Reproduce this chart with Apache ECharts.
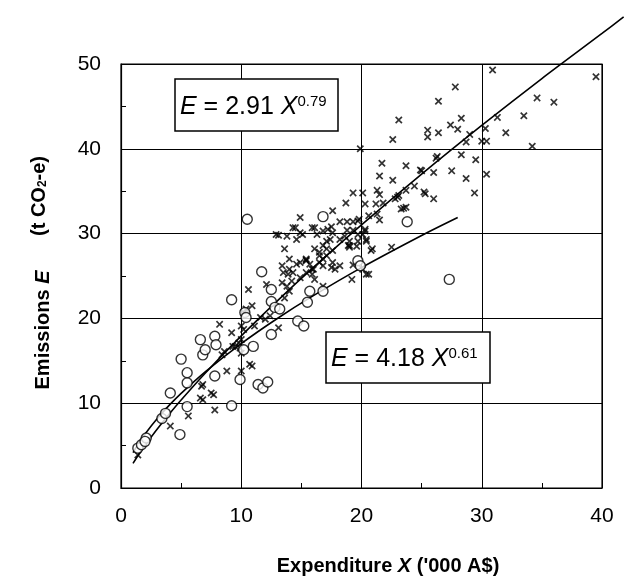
<!DOCTYPE html>
<html><head><meta charset="utf-8">
<script src="https://cdn.jsdelivr.net/npm/echarts@6/dist/echarts.min.js"></script>
<style>html,body{margin:0;padding:0;background:#fff}#c{width:626px;height:580px}</style>
</head><body><div id="c"></div>
<script>
// Households (crosses)
const crossPoints = [
[30.9,49.3],[39.5,48.5],[27.8,47.3],[26.4,45.6],[34.6,46.0],[36.0,45.5],[28.3,43.6],[31.3,43.7],[33.5,43.9],[27.4,42.8],[28.0,42.3],[25.5,42.2],[25.5,41.4],[26.4,41.9],[29.0,41.7],[30.3,42.4],[32.0,41.9],[28.7,40.8],[30.0,40.9],[30.4,40.9],[34.2,40.3],[26.3,39.1],[28.3,39.3],[29.5,38.7],[25.0,37.4],[26.0,37.2],[27.5,37.4],[28.7,36.5],[30.4,37.0],[25.2,34.9],[26.0,34.1],[29.4,34.8],
[23.1,43.4],[22.6,41.1],[19.9,40.0],[21.7,38.3],[23.7,38.0],[21.5,36.8],[22.6,36.3],[24.9,37.5],[26.2,38.9],[19.3,34.8],[20.1,34.8],[21.3,35.1],[21.5,34.6],[24.4,35.6],[25.3,34.7],[23.1,34.5],[18.7,33.6],[20.3,33.5],[21.2,33.5],[21.8,33.6],[22.8,34.1],[23.5,33.0],[20.6,32.1],[21.5,31.6],[18.2,31.4],[18.8,31.4],[19.3,31.4],[19.7,31.5],[18.6,29.7],[19.7,29.9],[20.3,30.3],[19.0,28.6],[19.7,29.1],[20.4,29.1],[20.8,28.0],[22.5,28.4],[19.3,26.3],[20.1,25.8],[20.4,25.2],
[23.0,34.3],[23.7,35.1],[17.6,32.7],[23.3,32.9],[23.7,33.1],[21.3,32.3],[19.8,31.7],[17.5,30.8],[17.2,30.5],[15.9,30.7],[18.8,30.4],[19.3,30.4],[20.3,30.5],[16.8,30.3],[15.1,29.9],[20.1,29.9],[20.4,29.3],[19.0,29.1],[19.0,28.4],[19.6,28.5],[20.9,28.2],[17.4,29.3],[16.8,28.6],[17.1,28.2],[17.6,28.0],[16.5,27.4],[16.8,27.0],[16.5,27.8],[15.4,26.9],[15.7,26.4],[16.0,25.8],[15.9,25.2],[16.1,24.6],[17.5,26.0],[16.8,26.2],[18.2,26.2],[19.2,24.6],[20.6,25.2],[16.8,23.8],
[14.5,30.7],[14.9,30.1],[16.1,30.7],[13.1,29.8],[13.8,29.7],[14.6,29.3],[13.6,28.2],[14.0,27.0],[14.6,26.4],[15.4,26.8],[13.4,26.2],[13.5,25.4],[13.9,25.2],[14.3,25.4],[10.6,23.4],[12.1,24.0],[13.4,24.2],[13.8,23.8],[14.0,23.2],[13.6,22.4],[14.2,24.4],[14.9,24.8],[15.4,25.4],[10.9,21.5],[10.4,21.1],[10.2,20.7],[13.1,18.9],[11.6,20.1],[12.0,19.9],[12.4,20.3],[8.2,19.3],[9.2,18.3],[10.0,19.1],[10.2,18.7],[11.1,19.1],[9.3,16.7],[9.9,16.5],[10.0,15.9],
[10.7,14.6],[10.0,13.8],[6.8,12.2],[8.8,13.8],[7.5,11.2],[6.8,10.4],[7.8,9.2],[5.6,8.5],[4.1,7.3],[1.4,3.9],[10.9,14.4],[8.4,15.7],[8.6,16.1],[9.5,16.7],[9.8,17.1],[10.0,17.5],[6.6,10.6],[7.7,11.0],[6.7,12.0],
[14.9,31.9],[14.3,30.7],[12.9,29.9],[16.3,29.9],[17.1,29.1],[17.6,30.1],[18.2,29.3],[18.9,28.6],[16.1,28.2],[16.5,26.6],[17.1,27.4],[15.4,27.0],[14.9,26.6],[14.0,25.8],[15.9,25.8],[17.6,26.6],[17.8,25.8]
];
// Households (circles)
const circlePoints = [
[1.4,4.7],[1.7,5.1],[2.1,5.9],[2.0,5.5],[3.4,8.2],[3.7,8.8],[4.1,11.2],[4.9,6.3],[5.0,15.2],[5.5,12.4],[5.5,13.6],[5.5,9.6],[6.6,17.5],[6.8,15.7],[7.0,16.3],[7.8,17.9],[7.9,16.9],[7.8,13.2],[9.2,9.7],[9.9,12.8],[9.2,22.2],[10.5,31.7],[10.3,20.7],[10.4,20.1],[10.2,16.3],[11.0,16.7],[11.4,12.2],[11.8,11.8],[12.2,12.5],[11.7,25.5],[12.5,23.4],[12.5,22.0],[12.8,21.3],[13.2,21.1],[12.5,18.1],[14.7,19.7],[15.2,19.1],[15.5,21.9],[15.7,23.2],[16.8,23.2],[16.8,32.0],[19.7,26.8],[19.9,26.2],[23.8,31.4],[27.3,24.6]
];
// Fitted curves
const fitUpperX = [1, 1.5, 2, 3, 4, 5, 7, 10, 13, 16, 20, 25, 30, 35, 40, 41.8];
const fitUpperY = [2.91, 4.01, 5.03, 6.93, 8.70, 10.38, 13.54, 17.94, 22.07, 26.01, 31.03, 37.01, 42.75, 48.28, 53.6, 55.55];
const fitLowerX = [1, 1.5, 2, 3, 4, 5, 7, 10, 13, 16, 20, 25, 28];
const fitLowerY = [4.18, 5.35, 6.38, 8.17, 9.74, 11.16, 13.70, 17.03, 19.99, 22.68, 25.99, 29.78, 31.9];
const xTicks = [0, 10, 20, 30, 40];
const yTicks = [0, 10, 20, 30, 40, 50];

const FONT = '"Liberation Sans", Arial, sans-serif';
const chart = echarts.init(document.getElementById('c'), null, {renderer: 'canvas'});
const crossPath = 'path://M0,1.6L1.6,0L5,3.4L8.4,0L10,1.6L6.6,5L10,8.4L8.4,10L5,6.6L1.6,10L0,8.4L3.4,5Z';

// main plot geometry
const G = {left: 121, top: 64, width: 481, height: 424};
const pxX = G.width / 40, pxY = G.height / 50;
// hidden, same-scale grid extending beyond the frame for the fitted curve
const extX = 41.9, extY = 56;

chart.setOption({
  animation: false,
  backgroundColor: '#fff',
  grid: [
    {left: G.left, top: G.top, width: G.width, height: G.height, show: true, borderColor: '#000', borderWidth: 1.2, backgroundColor: 'transparent'},
    {left: G.left, top: G.top + G.height - extY * pxY, width: extX * pxX, height: extY * pxY, show: false}
  ],
  xAxis: [{
    type: 'value', gridIndex: 0, min: xTicks[0], max: xTicks[xTicks.length - 1], interval: 10,
    axisLine: {show: true, lineStyle: {color: '#000', width: 1.2}},
    axisTick: {show: false, inside: true},
    minorTick: {show: true, splitNumber: 2, length: 5, lineStyle: {color: '#000'}},
    splitLine: {show: true, lineStyle: {color: '#000', width: 1}},
    axisLabel: {color: '#000', fontSize: 21, fontFamily: FONT, margin: 18}
  }, {
    type: 'value', gridIndex: 1, min: 0, max: extX, show: false, splitLine: {show: false}
  }],
  yAxis: [{
    type: 'value', gridIndex: 0, min: yTicks[0], max: yTicks[yTicks.length - 1], interval: 10,
    axisLine: {show: true, lineStyle: {color: '#000', width: 1.2}},
    axisTick: {show: false, inside: true},
    minorTick: {show: true, splitNumber: 2, length: 5, lineStyle: {color: '#000'}},
    splitLine: {show: true, lineStyle: {color: '#000', width: 1.2}},
    axisLabel: {color: '#000', fontSize: 21, fontFamily: FONT, margin: 20}
  }, {
    type: 'value', gridIndex: 1, min: 0, max: extY, show: false, splitLine: {show: false}
  }],
  series: [
    {type: 'scatter', data: crossPoints, symbol: crossPath, symbolSize: 7.5,
     itemStyle: {color: '#000'}, z: 3},
    {type: 'line', xAxisIndex: 1, yAxisIndex: 1, data: fitUpperX.map((x, i) => [x, fitUpperY[i]]), showSymbol: false, smooth: 0.3, clip: false,
     lineStyle: {color: '#000', width: 1.6}, z: 4},
    {type: 'line', xAxisIndex: 1, yAxisIndex: 1, data: fitLowerX.map((x, i) => [x, fitLowerY[i]]), showSymbol: false, smooth: 0.3, clip: false,
     lineStyle: {color: '#000', width: 1.6}, z: 4},
    {type: 'scatter', data: circlePoints, symbol: 'circle', symbolSize: 10,
     itemStyle: {color: '#fff', borderColor: '#000', borderWidth: 1.4}, z: 5}
  ],
  graphic: [
    {type: 'rect', z: 100, shape: {x: 175, y: 79, width: 163, height: 52},
     style: {fill: '#fff', stroke: '#000', lineWidth: 1.5}},
    {type: 'text', z: 101, x: 180, y: 107,
     style: {text: '{i|E}{n| = 2.91 }{i|X}{s|0.79}', align: 'left', verticalAlign: 'middle', fill: '#000',
       rich: {n: {fontSize: 25, fontFamily: FONT, fill: '#000'}, i: {fontSize: 25, fontFamily: FONT, fontStyle: 'italic', fill: '#000'},
              s: {fontSize: 15, fontFamily: FONT, verticalAlign: 'top', fill: '#000'}}}},
    {type: 'rect', z: 100, shape: {x: 326, y: 332, width: 164, height: 51},
     style: {fill: '#fff', stroke: '#000', lineWidth: 1.5}},
    {type: 'text', z: 101, x: 331, y: 359,
     style: {text: '{i|E}{n| = 4.18 }{i|X}{s|0.61}', align: 'left', verticalAlign: 'middle', fill: '#000',
       rich: {n: {fontSize: 25, fontFamily: FONT, fill: '#000'}, i: {fontSize: 25, fontFamily: FONT, fontStyle: 'italic', fill: '#000'},
              s: {fontSize: 15, fontFamily: FONT, verticalAlign: 'top', fill: '#000'}}}},
    {type: 'text', z: 101, x: 43, y: 330, rotation: Math.PI / 2,
     style: {text: '{b|Emissions }{bi|E}', align: 'center', verticalAlign: 'middle', fill: '#000',
       rich: {b: {fontSize: 20, fontWeight: 'bold', fontFamily: FONT, fill: '#000'},
              bi: {fontSize: 20, fontWeight: 'bold', fontStyle: 'italic', fontFamily: FONT, fill: '#000'}}}},
    {type: 'text', z: 101, x: 39, y: 196, rotation: Math.PI / 2,
     style: {text: '{b|(t CO}{sub|2}{b|-e)}', align: 'center', verticalAlign: 'middle', fill: '#000',
       rich: {b: {fontSize: 20, fontWeight: 'bold', fontFamily: FONT, fill: '#000'},
              sub: {fontSize: 12, fontWeight: 'bold', fontFamily: FONT, verticalAlign: 'bottom', fill: '#000'}}}},
    {type: 'text', z: 101, x: 388, y: 566,
     style: {text: '{b|Expenditure }{bi|X}{b| (\'000 A$)}', align: 'center', verticalAlign: 'middle', fill: '#000',
       rich: {b: {fontSize: 20, fontWeight: 'bold', fontFamily: FONT, fill: '#000'},
              bi: {fontSize: 20, fontWeight: 'bold', fontStyle: 'italic', fontFamily: FONT, fill: '#000'}}}}
  ]
});
</script></body></html>
